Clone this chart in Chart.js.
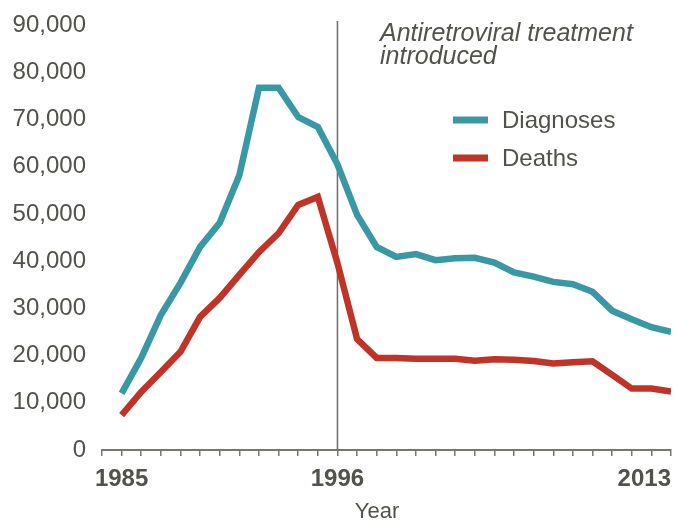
<!DOCTYPE html>
<html>
<head>
<meta charset="utf-8">
<script src="https://cdn.jsdelivr.net/npm/chart.js@4.4.1/dist/chart.umd.min.js"></script>
<style>
  html, body { margin: 0; padding: 0; background: #ffffff; }
  #wrap { width: 678px; height: 521px; position: relative; }
</style>
</head>
<body>
<div id="wrap"><canvas id="c" width="678" height="521"></canvas></div>
<script>
const years = [1985,1986,1987,1988,1989,1990,1991,1992,1993,1994,1995,1996,1997,1998,1999,2000,2001,2002,2003,2004,2005,2006,2007,2008,2009,2010,2011,2012,2013];
const diagnoses = [12000,19500,28600,35400,43000,48100,58200,76700,76700,70500,68400,60500,49800,43000,40900,41500,40200,40600,40700,39700,37600,36700,35600,35100,33500,29500,27700,26000,25000];
const deaths = [7400,12300,16500,20800,28200,32200,37100,41900,45900,51900,53600,39600,23500,19500,19500,19350,19350,19300,18900,19200,19100,18850,18300,18600,18800,15900,13000,13000,12400];
const xTickLabels = [1985, 1996, 2013];
const seriesNames = ['Diagnoses', 'Deaths'];
const annotationYear = 1996;
const annotationText = ['Antiretroviral treatment', 'introduced'];
const xTitle = 'Year';

const TEAL = '#3899a5';
const RED = '#c03428';
const TEXT = '#52524b';
const FONT = "'Liberation Sans', Arial, Helvetica, sans-serif";

const overlay = {
  id: 'overlay',
  beforeDatasetsDraw(chart) {
    const ctx = chart.ctx;
    const x = chart.scales.x.getPixelForValue(annotationYear);
    ctx.save();
    ctx.strokeStyle = '#6e6e68';
    ctx.lineWidth = 1.5;
    ctx.beginPath();
    ctx.moveTo(x, 21);
    ctx.lineTo(x, chart.chartArea.bottom);
    ctx.stroke();
    ctx.restore();
  },
  afterDraw(chart) {
    const ctx = chart.ctx;
    ctx.save();
    ctx.fillStyle = TEXT;
    ctx.font = "italic 25px " + FONT;
    ctx.textAlign = 'left';
    ctx.textBaseline = 'alphabetic';
    ctx.fillText(annotationText[0], 380, 41);
    ctx.fillText(annotationText[1], 380, 64);
    // axis title
    ctx.font = "22px " + FONT;
    ctx.textAlign = 'center';
    ctx.fillText(xTitle, 377, 518);
    // legend
    const items = [[seriesNames[0], TEAL, 120], [seriesNames[1], RED, 158]];
    ctx.font = "24px " + FONT;
    ctx.textAlign = 'left';
    ctx.textBaseline = 'middle';
    items.forEach(([label, color, y]) => {
      ctx.strokeStyle = color;
      ctx.lineWidth = 7;
      ctx.lineCap = 'butt';
      ctx.beginPath();
      ctx.moveTo(453, y);
      ctx.lineTo(488, y);
      ctx.stroke();
      ctx.fillStyle = TEXT;
      ctx.fillText(label, 502, y + 1);
    });
    ctx.restore();
  }
};

new Chart(document.getElementById('c'), {
  type: 'line',
  data: {
    datasets: [
      { label: seriesNames[0], data: years.map((y, i) => ({x: y, y: diagnoses[i]})), borderColor: TEAL, borderWidth: 6.5, pointRadius: 0, tension: 0, borderJoinStyle: 'miter', fill: false },
      { label: seriesNames[1], data: years.map((y, i) => ({x: y, y: deaths[i]})), borderColor: RED, borderWidth: 6.5, pointRadius: 0, tension: 0, borderJoinStyle: 'miter', fill: false }
    ]
  },
  options: {
    responsive: false,
    animation: false,
    devicePixelRatio: 1,
    layout: { padding: { top: 25, right: 7, left: 0, bottom: 0 } },
    plugins: { legend: { display: false }, tooltip: { enabled: false } },
    scales: {
      x: {
        type: 'linear',
        min: 1984,
        max: 2013,
        afterFit(scale) { scale.height = 71; scale.paddingRight = 0; scale.paddingLeft = 0; },
        grid: { display: true, drawOnChartArea: false, drawTicks: true, tickLength: 6, color: '#77776f', lineWidth: 1.5 },
        border: { display: true, color: '#77776f', width: 2 },
        ticks: {
          stepSize: 1,
          autoSkip: false,
          maxRotation: 0,
          align: 'inner',
          padding: 9,
          color: TEXT,
          font: { family: FONT, size: 24, weight: 'bold' },
          callback: (v) => xTickLabels.includes(v) ? String(v) : ''
        },
        title: { display: false }
      },
      y: {
        min: 0,
        max: 90000,
        afterFit(scale) { scale.width = 102; scale.paddingTop = 0; scale.paddingBottom = 0; },
        grid: { display: false, drawTicks: false },
        border: { display: false },
        ticks: {
          stepSize: 10000,
          padding: 16,
          color: TEXT,
          font: { family: FONT, size: 24 },
          callback: (v) => v.toLocaleString('en-US')
        }
      }
    }
  },
  plugins: [overlay]
});
</script>
</body>
</html>
